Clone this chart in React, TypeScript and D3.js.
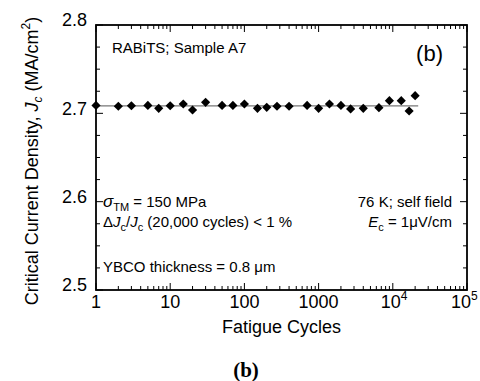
import React from "react";
import * as d3 from "d3";

const cycles = [1, 2, 3, 5, 7, 10, 15, 20, 30, 50, 70, 100, 150, 200, 275, 400, 700, 1000, 1400, 2000, 2700, 4000, 6500, 9000, 13000, 16600, 20000];
const jc = [2.709, 2.708, 2.7086, 2.709, 2.7057, 2.7086, 2.7106, 2.7038, 2.7125, 2.709, 2.709, 2.7106, 2.7057, 2.7068, 2.708, 2.708, 2.709, 2.7057, 2.7106, 2.709, 2.705, 2.7057, 2.7064, 2.7143, 2.7143, 2.7026, 2.72];
const fitCycles = [1, 22000];
const fitJc = [2.7085, 2.7085];
const yTicks = [2.5, 2.6, 2.7, 2.8];
const xDecades = [1, 10, 100, 1000, 10000, 100000];
const xTickLabels = ["1", "10", "100", "1000", "10|4", "10|5"];

const W = 480, H = 381;
const margin = { top: 25, right: 13, bottom: 91, left: 96 };
const font = "'Liberation Sans', Arial, sans-serif";

const App = () => {
  const x = d3.scaleLog().domain([1, 1e5]).range([margin.left, W - margin.right]);
  const y = d3.scaleLinear().domain([2.5, 2.8]).range([H - margin.bottom, margin.top]);
  const [x0, x1] = x.range();
  const [y0, y1] = y.range();

  const xMinor: number[] = [];
  xDecades.slice(0, -1).forEach(d => {
    for (let k = 2; k < 10; k++) xMinor.push(d * k);
  });
  const yMinor = d3.range(0, 13).map(i => 2.5 + i * 0.025).filter(v => !yTicks.some(t => Math.abs(t - v) < 1e-6));

  const diamond = d3.symbol().type(d3.symbolSquare).size(42)();
  const line = d3.line<number>().x((_, i) => x(fitCycles[i])).y((_, i) => y(fitJc[i]));

  const major = 7, minor = 4;

  return (
    <svg width={W} height={H} style={{ position: "absolute", left: 0, top: 0, background: "#fff" }} fontFamily={font}>
      {/* fit line */}
      <path d={line(fitCycles) || ""} stroke="#777" strokeWidth={1.2} fill="none" />

      {/* ticks, inward on all sides */}
      <g stroke="#000" strokeWidth={1}>
        {xDecades.map(v => (
          <g key={"xm" + v}>
            <line x1={x(v)} x2={x(v)} y1={y0} y2={y0 - major} />
            <line x1={x(v)} x2={x(v)} y1={y1} y2={y1 + major} />
          </g>
        ))}
        {xMinor.map(v => (
          <g key={"xn" + v}>
            <line x1={x(v)} x2={x(v)} y1={y0} y2={y0 - minor} />
            <line x1={x(v)} x2={x(v)} y1={y1} y2={y1 + minor} />
          </g>
        ))}
        {yTicks.map(v => (
          <g key={"ym" + v}>
            <line x1={x0} x2={x0 + major} y1={y(v)} y2={y(v)} />
            <line x1={x1} x2={x1 - major} y1={y(v)} y2={y(v)} />
          </g>
        ))}
        {yMinor.map(v => (
          <g key={"yn" + v}>
            <line x1={x0} x2={x0 + minor} y1={y(v)} y2={y(v)} />
            <line x1={x1} x2={x1 - minor} y1={y(v)} y2={y(v)} />
          </g>
        ))}
      </g>

      {/* frame */}
      <rect x={x0} y={y1} width={x1 - x0} height={y0 - y1} fill="none" stroke="#000" strokeWidth={1.8} />

      {/* points */}
      {cycles.map((c, i) => (
        <path key={i} d={diamond || ""} transform={`translate(${x(c)},${y(jc[i])}) rotate(45)`} fill="#000" />
      ))}

      {/* y tick labels */}
      <g fontSize={18} textAnchor="end">
        {yTicks.map(v => (
          <text key={v} x={x0 - 9} y={y(v) - 5} dy="0.35em">{v.toFixed(1)}</text>
        ))}
      </g>

      {/* x tick labels */}
      <g fontSize={18}>
        {xDecades.map((v, i) => {
          const lab = xTickLabels[i];
          if (lab.includes("|")) {
            const [b, e] = lab.split("|");
            const last = i === xDecades.length - 1;
            return (
              <text key={v} x={x(v) - (last ? 16 : 12)} y={y0 + 18}>
                {b}<tspan fontSize={12} dy={-8}>{e}</tspan>
              </text>
            );
          }
          return <text key={v} x={x(v)} y={y0 + 18} textAnchor="middle">{lab}</text>;
        })}
      </g>

      {/* axis titles */}
      <text x={(x0 + x1) / 2} y={333} fontSize={18} textAnchor="middle">Fatigue Cycles</text>
      <text transform="translate(38,161) rotate(-90)" fontSize={18} textAnchor="middle">
        Critical Current Density, <tspan fontStyle="italic">J</tspan>
        <tspan fontStyle="italic" fontSize={12} dy={4}>c</tspan>
        <tspan dy={-4}> (MA/cm</tspan>
        <tspan fontSize={12} dy={-8}>2</tspan>
        <tspan dy={8}>)</tspan>
      </text>

      {/* annotations */}
      <g fontSize={15}>
        <text x={112} y={53}>RABiTS; Sample A7</text>
        <text x={103} y={207}>
          <tspan fontStyle="italic" fontSize={17}>σ</tspan>
          <tspan fontSize={11} dy={4}>TM</tspan>
          <tspan dy={-4}> = 150 MPa</tspan>
        </text>
        <text x={103} y={227}>
          Δ<tspan fontStyle="italic">J</tspan>
          <tspan fontSize={11} dy={4}>c</tspan>
          <tspan dy={-4}>/</tspan>
          <tspan fontStyle="italic">J</tspan>
          <tspan fontSize={11} dy={4}>c</tspan>
          <tspan dy={-4}> (20,000 cycles) &lt; 1 %</tspan>
        </text>
        <text x={103} y={272}>YBCO thickness = 0.8 μm</text>
        <text x={452} y={207} textAnchor="end">76 K; self field</text>
        <text x={452} y={227} textAnchor="end">
          <tspan fontStyle="italic">E</tspan>
          <tspan fontSize={11} dy={4}>c</tspan>
          <tspan dy={-4}> = 1μV/cm</tspan>
        </text>
      </g>
      <text x={443} y={61} fontSize={22} textAnchor="end">(b)</text>

      <text x={246} y={377} fontSize={21} fontWeight="bold" fontFamily="'Liberation Serif', 'Times New Roman', serif" textAnchor="middle">(b)</text>
    </svg>
  );
};

export default App;
